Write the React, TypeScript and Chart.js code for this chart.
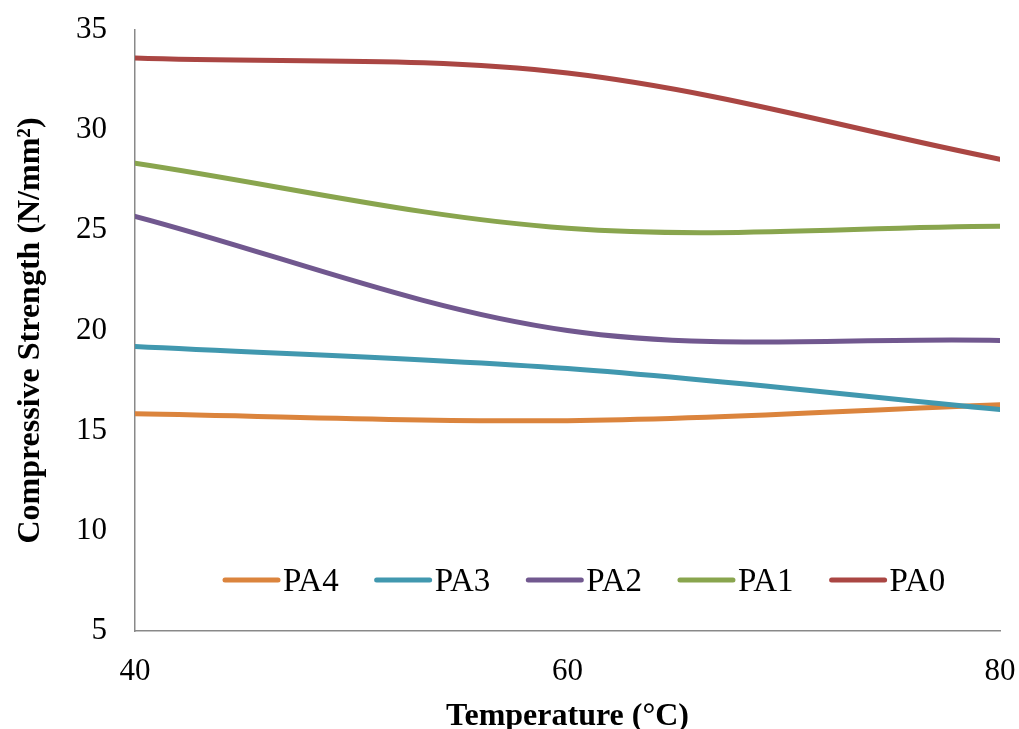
import React, { useEffect, useRef } from "react";
import { Chart, registerables } from "chart.js";

Chart.register(...registerables);

const temperatures = [40, 60, 80];
const seriesNames = ["PA4", "PA3", "PA2", "PA1", "PA0"];
const pa4 = [15.85, 15.5, 16.3];
const pa3 = [19.2, 18.1, 16.05];
const pa2 = [25.7, 20.0, 19.5];
const pa1 = [28.35, 25.1, 25.2];
const pa0 = [33.6, 32.85, 28.55];
const seriesValues = [pa4, pa3, pa2, pa1, pa0];
const seriesColors = ["#DB843D", "#4198AF", "#71588F", "#89A54E", "#AA4643"];

const yTicks = [5, 10, 15, 20, 25, 30, 35];
const xTicks = [40, 60, 80];

const FONT = "'Liberation Serif', 'Times New Roman', serif";

const insideLegend = {
  id: "insideLegend",
  afterDraw(chart: any) {
    const { ctx, chartArea } = chart;
    const lineLen = 57;
    const textGap = 3;
    const itemGap = 36;
    const y = chartArea.bottom - 51;
    ctx.save();
    ctx.font = `33px ${FONT}`;
    ctx.textBaseline = "alphabetic";
    ctx.textAlign = "left";
    let x = chartArea.left + 88;
    chart.data.datasets.forEach((ds: any) => {
      ctx.strokeStyle = ds.borderColor;
      ctx.lineWidth = 5;
      ctx.lineCap = "round";
      ctx.beginPath();
      ctx.moveTo(x + 2, y);
      ctx.lineTo(x + lineLen - 2, y);
      ctx.stroke();
      ctx.fillStyle = "#000";
      ctx.fillText(ds.label, x + lineLen + textGap, y + 11);
      const w = ctx.measureText(ds.label).width;
      x += lineLen + textGap + w + itemGap;
    });
    ctx.restore();
  },
};

function clearPadding(scale: any) {
  scale.paddingTop = 0;
  scale.paddingBottom = 0;
  scale.paddingLeft = 0;
  scale.paddingRight = 0;
}

export default function App() {
  const ref = useRef<HTMLCanvasElement>(null);
  useEffect(() => {
    if (!ref.current) return;
    const chart = new Chart(ref.current, {
      type: "line",
      data: {
        datasets: seriesNames.map((name, i) => ({
          label: name,
          data: temperatures.map((t, j) => ({ x: t, y: seriesValues[i][j] })),
          borderColor: seriesColors[i],
          backgroundColor: seriesColors[i],
          borderWidth: 5,
          borderCapStyle: "round",
          pointRadius: 0,
          tension: 0.34,
          fill: false,
          order: seriesNames.length - i,
        })),
      },
      options: {
        animation: false,
        responsive: false,
        layout: { padding: { top: 30, right: 19, left: 0, bottom: 0 } },
        plugins: {
          legend: { display: false },
          tooltip: { enabled: false },
        },
        scales: {
          x: {
            type: "linear",
            min: 40,
            max: 80,
            afterBuildTicks: (scale: any) => {
              scale.ticks = xTicks.map((v) => ({ value: v }));
            },
            afterFit: (scale: any) => {
              scale.height = 98;
              clearPadding(scale);
            },
            grid: { display: false, drawTicks: false },
            border: { display: true, color: "#898989", width: 1.5 },
            ticks: {
              color: "#000",
              font: { family: FONT, size: 31 },
              padding: 22,
              maxRotation: 0,
            },
            title: {
              display: true,
              text: "Temperature (°C)",
              color: "#000",
              font: { family: FONT, size: 32, weight: "bold" },
              padding: { top: 0, bottom: -7 },
            },
          },
          y: {
            type: "linear",
            min: 5,
            max: 35,
            afterBuildTicks: (scale: any) => {
              scale.ticks = yTicks.map((v) => ({ value: v }));
            },
            afterFit: (scale: any) => {
              scale.width = 135;
              clearPadding(scale);
            },
            grid: { display: false, drawTicks: false },
            border: { display: true, color: "#898989", width: 1.5 },
            ticks: {
              color: "#000",
              font: { family: FONT, size: 31 },
              padding: 28,
            },
            title: {
              display: true,
              text: "Compressive Strength (N/mm²)",
              color: "#000",
              font: { family: FONT, size: 32, weight: "bold" },
              padding: { top: 12, bottom: 0 },
            },
          },
        },
      },
      plugins: [insideLegend],
    } as any);
    return () => chart.destroy();
  }, []);
  return (
    <div style={{ position: "absolute", left: 0, top: 0, width: 1019, height: 729, background: "#fff" }}>
      <canvas ref={ref} width={1019} height={729} />
    </div>
  );
}
